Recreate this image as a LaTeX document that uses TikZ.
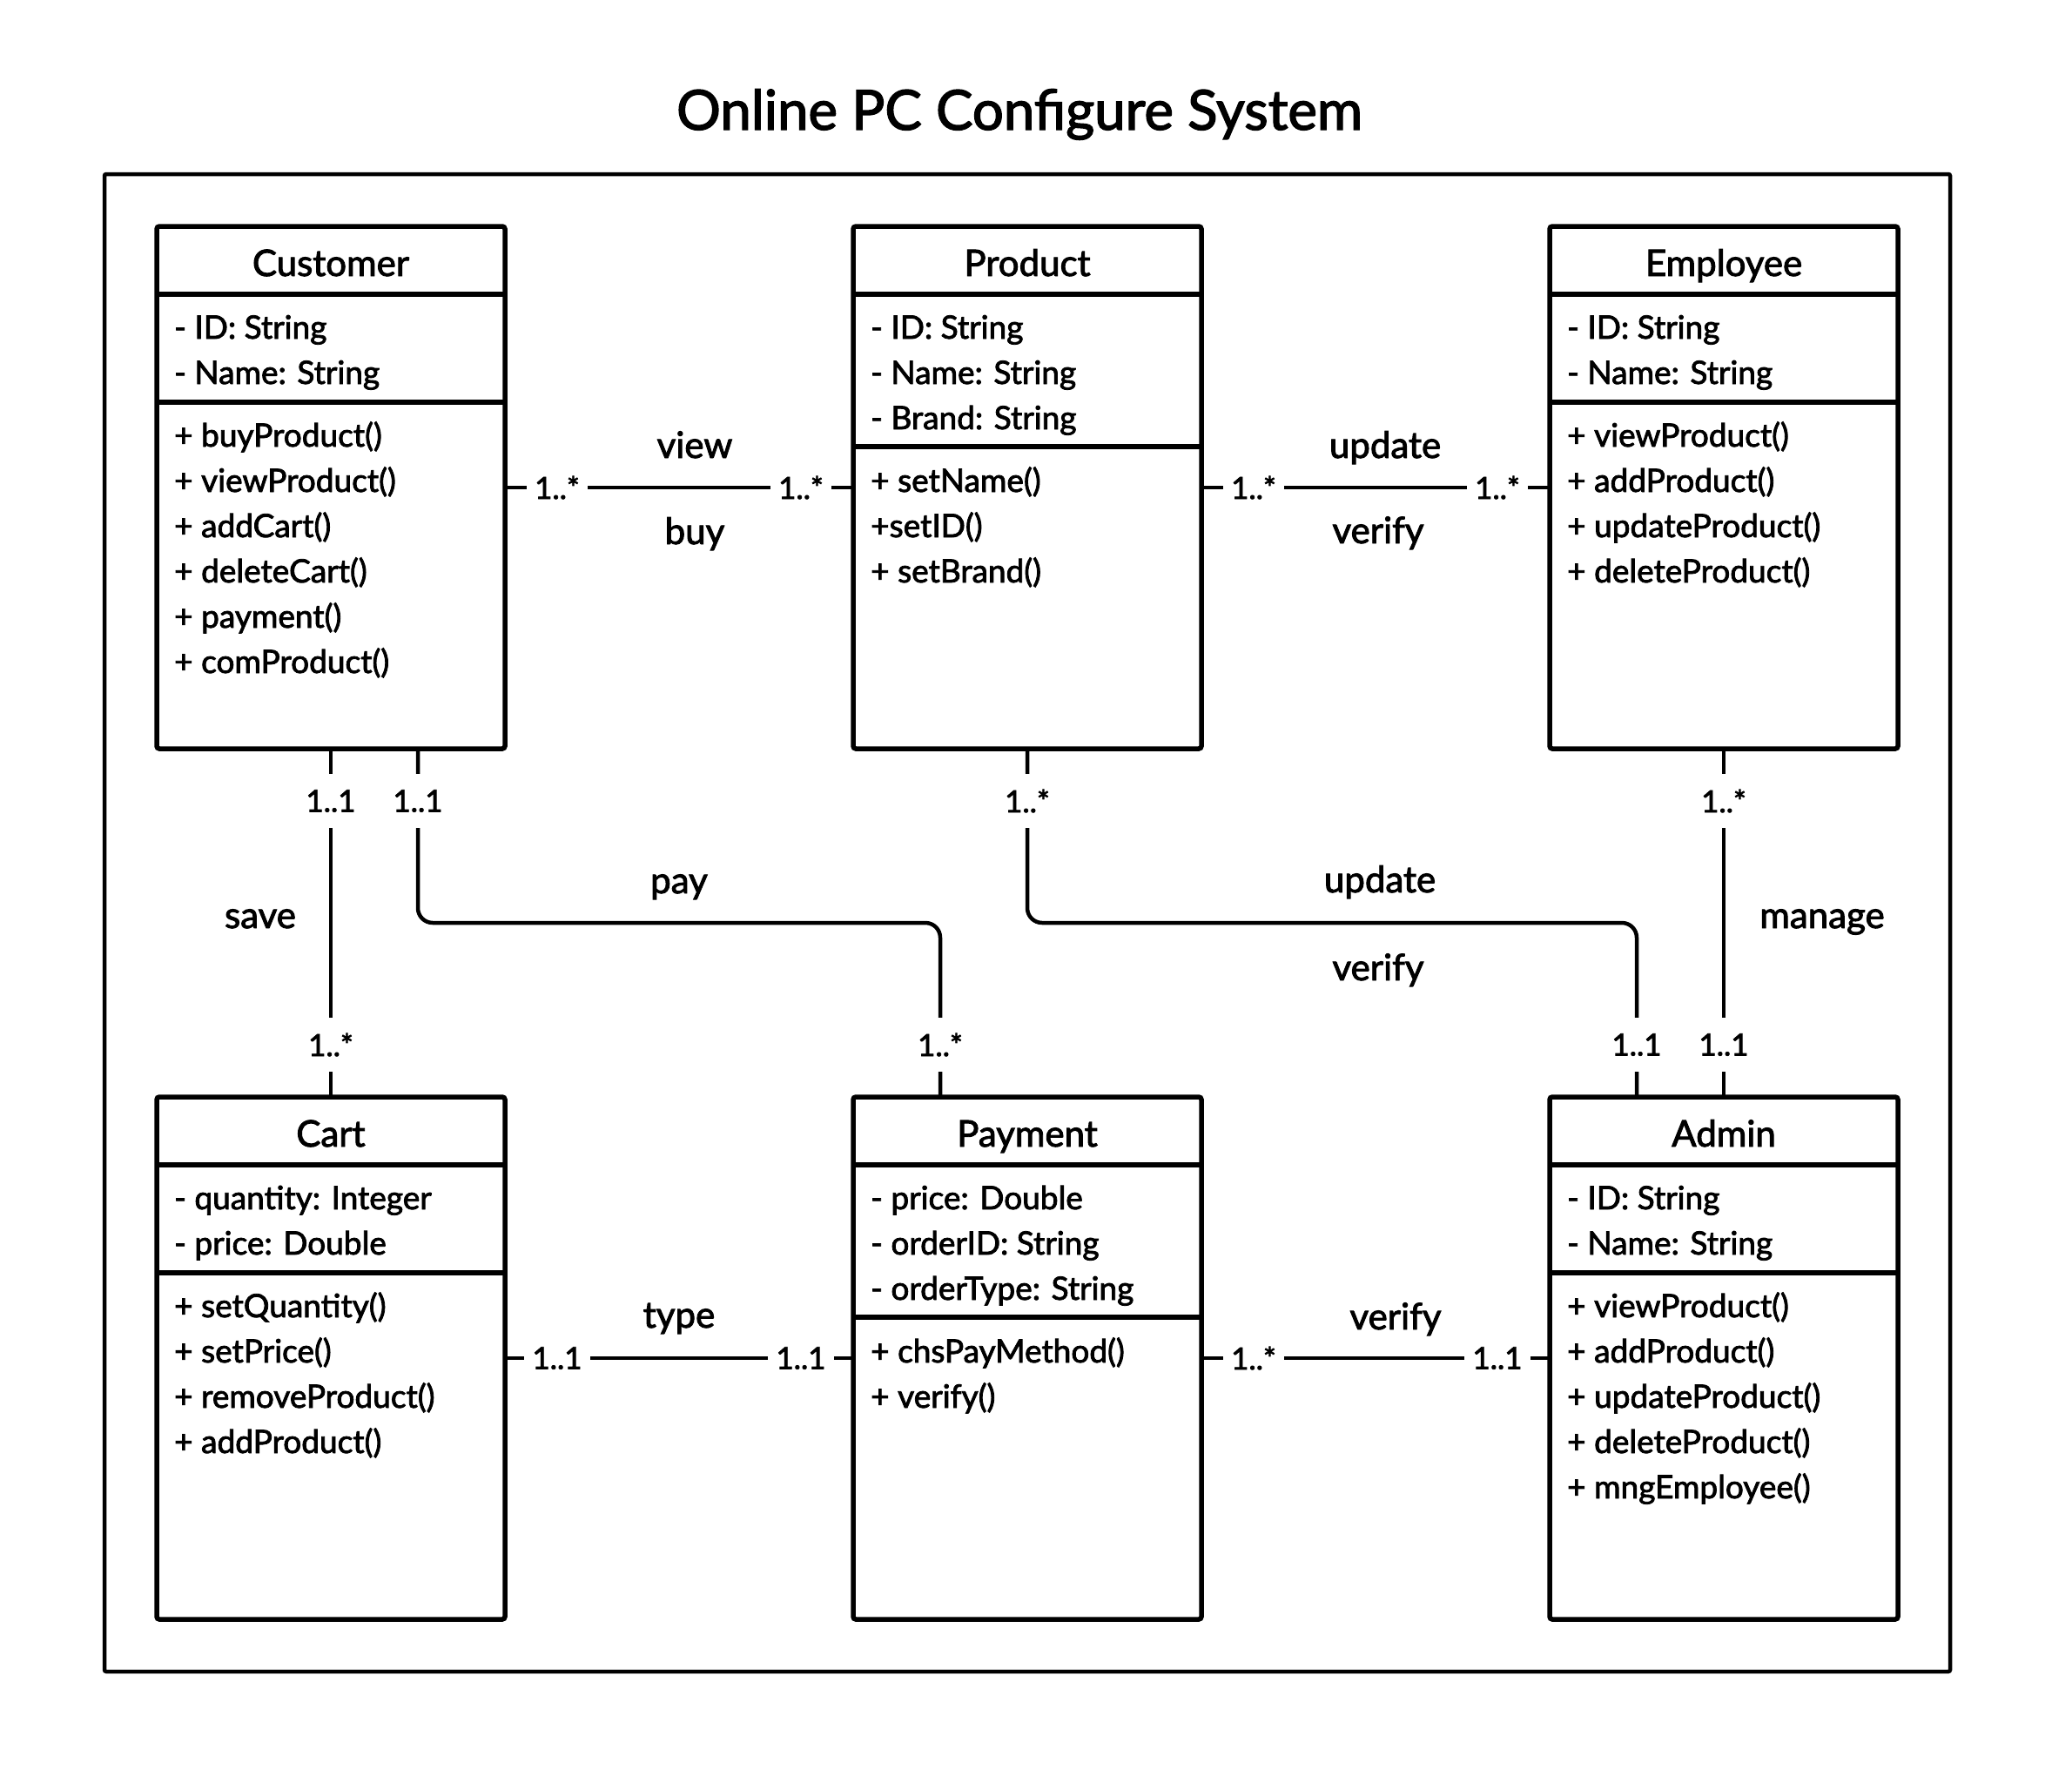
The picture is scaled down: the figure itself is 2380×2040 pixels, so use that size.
\documentclass[tikz,border=0pt]{standalone}
\usepackage{fontspec}
\setmainfont{Lato}[FakeBold=2.2]
\usepackage{tikz}

\begin{document}
\begin{tikzpicture}[x=1pt,y=1pt,yscale=-1,xscale=1,
  classbox/.style={draw, line width=5.5, rounded corners=3, minimum width=400, minimum height=600, inner sep=0, outer sep=0},
  boxline/.style={line width=5.5},
  assoc/.style={line width=4.5, rounded corners=17},
  classhead/.style={anchor=base, inner sep=0, font=\fontsize{42}{50}\selectfont},
  member/.style={anchor=base west, inner sep=0, font=\fontsize{37}{45}\selectfont},
  multlabel/.style={fill=white, inner xsep=9, inner ysep=18, font=\fontsize{35}{42}\selectfont},
  rolelabel/.style={anchor=base, inner sep=0, font=\fontsize{42}{50}\selectfont}]
\useasboundingbox (0,0) rectangle (2380,2040);

% Text Node
\node [anchor=base, inner sep=0, font=\fontsize{63.5}{75}\selectfont] (title) at (1171,149) {Online PC Configure System};
%Shape: Frame
\draw [line width=4.5, rounded corners=2] (120,200) rectangle (2240,1920);

%Shape: Class boxes
\node [classbox] (cust) at (380,560) {};
\node [classbox] (prod) at (1180,560) {};
\node [classbox] (emp) at (1980,560) {};
\node [classbox] (cart) at (380,1560) {};
\node [classbox] (pay) at (1180,1560) {};
\node [classbox] (admin) at (1980,1560) {};

%Straight Lines: compartments
\draw [boxline] (180,338) -- (580,338) ;
\draw [boxline] (180,462) -- (580,462) ;
\draw [boxline] (980,338) -- (1380,338) ;
\draw [boxline] (980,513) -- (1380,513) ;
\draw [boxline] (1780,338) -- (2180,338) ;
\draw [boxline] (1780,462) -- (2180,462) ;
\draw [boxline] (180,1338) -- (580,1338) ;
\draw [boxline] (180,1462) -- (580,1462) ;
\draw [boxline] (980,1338) -- (1380,1338) ;
\draw [boxline] (980,1513) -- (1380,1513) ;
\draw [boxline] (1780,1338) -- (2180,1338) ;
\draw [boxline] (1780,1462) -- (2180,1462) ;

%Connectors
\draw [assoc] (cust.east) -- (prod.west) ;
\draw [assoc] (prod.east) -- (emp.west) ;
\draw [assoc] (cust.south) -- (cart.north) ;
\draw [assoc] ([xshift=100]cust.south) -- ++(0,200) -| ([xshift=-100]pay.north) ;
\draw [assoc] (prod.south) -- ++(0,200) -| ([xshift=-100]admin.north) ;
\draw [assoc] (emp.south) -- (admin.north) ;
\draw [assoc] (cart.east) -- (pay.west) ;
\draw [assoc] (pay.east) -- (admin.west) ;

% Multiplicities
\node [multlabel] (m1) at (640,560) {1..*};
\node [multlabel] (m2) at (920,560) {1..*};
\node [multlabel] (m3) at (1440,560) {1..*};
\node [multlabel] (m4) at (1720,560) {1..*};
\node [multlabel] (m5) at (380,920) {1..1};
\node [multlabel] (m6) at (480,920) {1..1};
\node [multlabel] (m7) at (1180,920) {1..*};
\node [multlabel] (m8) at (1980,920) {1..*};
\node [multlabel] (m9) at (380,1200) {1..*};
\node [multlabel] (m10) at (1080,1200) {1..*};
\node [multlabel] (m11) at (1880,1200) {1..1};
\node [multlabel] (m12) at (1980,1200) {1..1};
\node [multlabel] (m13) at (640,1560) {1..1};
\node [multlabel] (m14) at (920,1560) {1..1};
\node [multlabel] (m15) at (1440,1560) {1..*};
\node [multlabel] (m16) at (1720,1560) {1..1};

% Text Node: association names
\node [rolelabel] (lview) at (798,526) {view};
\node [rolelabel] (lbuy) at (798,625) {buy};
\node [rolelabel] (lupd1) at (1591,526) {update};
\node [rolelabel] (lver1) at (1583,624) {verify};
\node [rolelabel] (lsave) at (299,1066) {save};
\node [rolelabel] (lpay) at (780,1026) {pay};
\node [rolelabel] (lupd2) at (1585,1025) {update};
\node [rolelabel] (lver2) at (1583,1126) {verify};
\node [rolelabel] (lmng) at (2093,1066) {manage};
\node [rolelabel] (ltype) at (780,1525) {type};
\node [rolelabel] (lver3) at (1603,1527) {verify};

% Text Node: Customer
\node [classhead] (cuh) at (380,317) {Customer};
\node [member] (cua1) at (200,389) {- ID: String};
\node [member] (cua2) at (200,441) {- Name: String};
\node [member] (cuo1) at (200,513) {+ buyProduct()};
\node [member] (cuo2) at (200,565) {+ viewProduct()};
\node [member] (cuo3) at (200,617) {+ addCart()};
\node [member] (cuo4) at (200,669) {+ deleteCart()};
\node [member] (cuo5) at (200,721) {+ payment()};
\node [member] (cuo6) at (200,773) {+ comProduct()};

% Text Node: Product
\node [classhead] (prh) at (1180,317) {Product};
\node [member] (pra1) at (1000,389) {- ID: String};
\node [member] (pra2) at (1000,441) {- Name: String};
\node [member] (pra3) at (1000,493) {- Brand: String};
\node [member] (pro1) at (1000,565) {+ setName()};
\node [member] (pro2) at (1000,617) {+setID()};
\node [member] (pro3) at (1000,669) {+ setBrand()};

% Text Node: Employee
\node [classhead] (emh) at (1980,317) {Employee};
\node [member] (ema1) at (1800,389) {- ID: String};
\node [member] (ema2) at (1800,441) {- Name: String};
\node [member] (emo1) at (1800,513) {+ viewProduct()};
\node [member] (emo2) at (1800,565) {+ addProduct()};
\node [member] (emo3) at (1800,617) {+ updateProduct()};
\node [member] (emo4) at (1800,669) {+ deleteProduct()};

% Text Node: Cart
\node [classhead] (cah) at (380,1317) {Cart};
\node [member] (caa1) at (200,1389) {- quantity: Integer};
\node [member] (caa2) at (200,1441) {- price: Double};
\node [member] (cao1) at (200,1513) {+ setQuantity()};
\node [member] (cao2) at (200,1565) {+ setPrice()};
\node [member] (cao3) at (200,1617) {+ removeProduct()};
\node [member] (cao4) at (200,1669) {+ addProduct()};

% Text Node: Payment
\node [classhead] (pah) at (1180,1317) {Payment};
\node [member] (paa1) at (1000,1389) {- price: Double};
\node [member] (paa2) at (1000,1441) {- orderID: String};
\node [member] (paa3) at (1000,1493) {- orderType: String};
\node [member] (pao1) at (1000,1565) {+ chsPayMethod()};
\node [member] (pao2) at (1000,1617) {+ verify()};

% Text Node: Admin
\node [classhead] (adh) at (1980,1317) {Admin};
\node [member] (ada1) at (1800,1389) {- ID: String};
\node [member] (ada2) at (1800,1441) {- Name: String};
\node [member] (ado1) at (1800,1513) {+ viewProduct()};
\node [member] (ado2) at (1800,1565) {+ addProduct()};
\node [member] (ado3) at (1800,1617) {+ updateProduct()};
\node [member] (ado4) at (1800,1669) {+ deleteProduct()};
\node [member] (ado5) at (1800,1721) {+ mngEmployee()};
\end{tikzpicture}
\end{document}
